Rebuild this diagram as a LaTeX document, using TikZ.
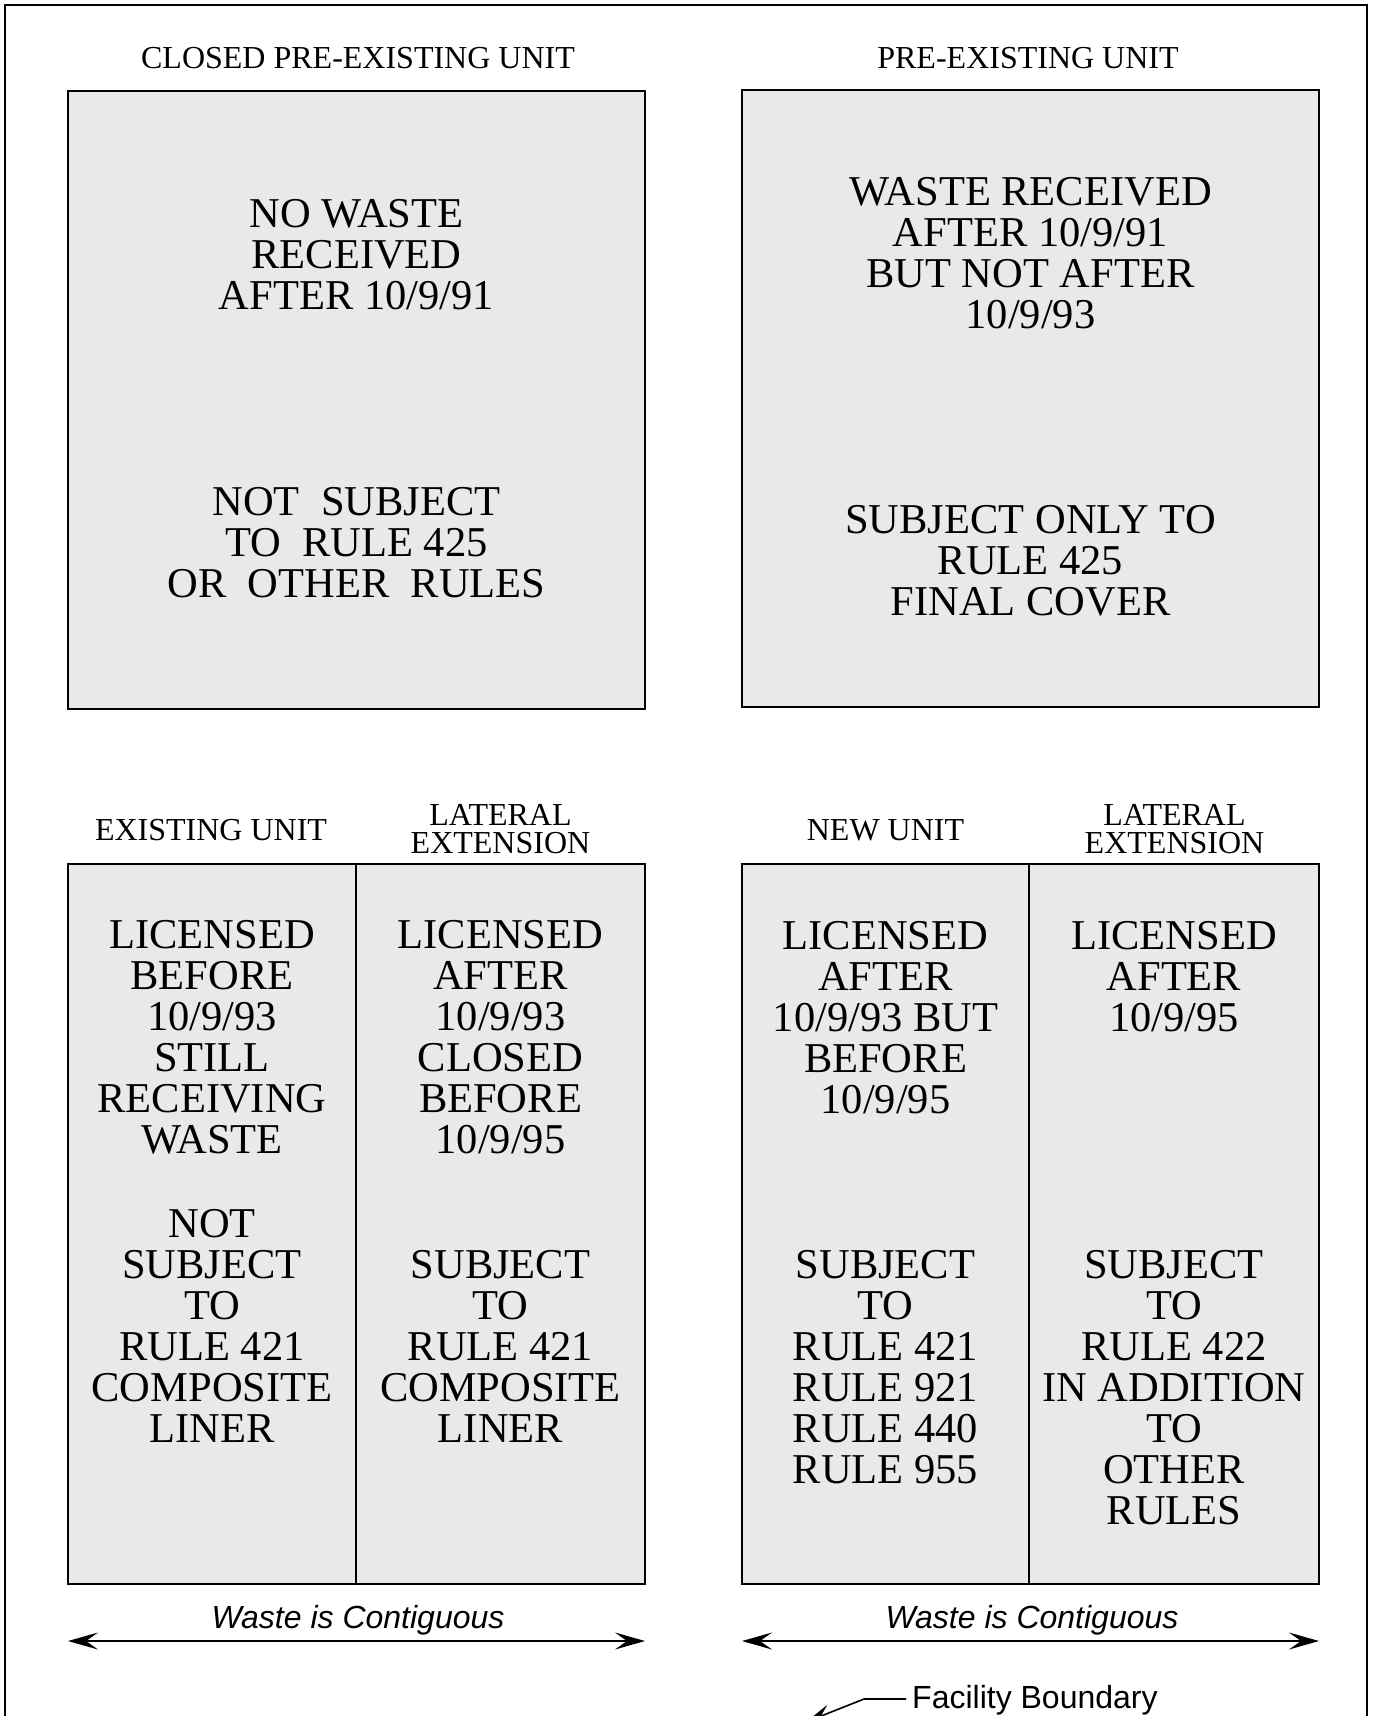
\documentclass[tikz,border=0pt]{standalone}
\usepackage{fontspec}
\setmainfont{Liberation Serif}
\newfontfamily\arialfont{Liberation Sans}
\usetikzlibrary{arrows.meta}
\definecolor{boxgray}{RGB}{233,233,233}
\tikzset{
  unitbox/.style={draw=black, fill=boxgray, line width=2pt, inner sep=0pt},
  boxtext/.style={align=center, inner sep=0pt, font=\fontsize{42.5}{41}\selectfont},
  titletext/.style={align=center, inner sep=0pt, font=\fontsize{32}{28.5}\selectfont},
  sanslabel/.style={inner sep=0pt, font=\arialfont\fontsize{32}{36}\selectfont},
  dblarrow/.style={line width=1.6pt, {Stealth[length=30pt,width=17pt,inset=12pt]}-{Stealth[length=30pt,width=17pt,inset=12pt]}},
  leader/.style={line width=1.6pt, -{Stealth[length=26pt,width=16pt,inset=10pt]}}
}
\begin{document}
\begin{tikzpicture}[x=1pt,y=-1pt]
\useasboundingbox (0,0) rectangle (1376,1716);
% outer facility border (open at bottom)
\coordinate (bl) at (5,1716);
\coordinate (tlc) at (5,4.5);
\coordinate (trc) at (1367,4.5);
\coordinate (br) at (1367,1716);
\draw[line width=2pt] (bl) -- (tlc) -- (trc) -- (br);

% top boxes
\node[unitbox, minimum width=577pt, minimum height=618pt] (tl) at (356.5,400) {};
\node[unitbox, minimum width=577pt, minimum height=617pt] (tr) at (1030.5,398.5) {};
\node[titletext] (tlt) at (358,58) {CLOSED PRE-EXISTING UNIT};
\node[titletext] (trt) at (1028,58) {PRE-EXISTING UNIT};
\node[boxtext] (tl1) at (356.5,255) {NO WASTE\\RECEIVED\\AFTER 10/9/91};
\node[boxtext] (tl2) at (356.5,543) {NOT\ \ SUBJECT\\TO\ \ RULE 425\\OR\ \ OTHER\ \ RULES};
\node[boxtext] (tr1) at (1030.5,253.5) {WASTE RECEIVED\\AFTER 10/9/91\\BUT NOT AFTER\\10/9/93};
\node[boxtext] (tr2) at (1030.5,561) {SUBJECT ONLY TO\\RULE 425\\FINAL COVER};

% bottom boxes
\node[unitbox, minimum width=288pt, minimum height=720pt] (bll) at (212,1224) {};
\node[unitbox, minimum width=289pt, minimum height=720pt] (blr) at (500.5,1224) {};
\node[unitbox, minimum width=287pt, minimum height=720pt] (brl) at (885.5,1224) {};
\node[unitbox, minimum width=290pt, minimum height=720pt] (brr) at (1174,1224) {};

\node[titletext] (bllt) at (211,830) {EXISTING UNIT};
\node[titletext] (blrta) at (500.5,815) {LATERAL};
\node[titletext] (blrtb) at (500.5,843) {EXTENSION};
\node[titletext] (brlt) at (885.5,830) {NEW UNIT};
\node[titletext] (brrta) at (1174.5,815) {LATERAL};
\node[titletext] (brrtb) at (1174.5,843) {EXTENSION};

\node[boxtext] (bll1) at (212,1037.5) {LICENSED\\BEFORE\\10/9/93\\STILL\\RECEIVING\\WASTE};
\node[boxtext] (bll2) at (212,1325.5) {NOT\\SUBJECT\\TO\\RULE 421\\COMPOSITE\\LINER};
\node[boxtext] (blr1) at (500.5,1037.5) {LICENSED\\AFTER\\10/9/93\\CLOSED\\BEFORE\\10/9/95};
\node[boxtext] (blr2) at (500.5,1346.5) {SUBJECT\\TO\\RULE 421\\COMPOSITE\\LINER};
\node[boxtext] (brl1) at (885.5,1018) {LICENSED\\AFTER\\10/9/93 BUT\\BEFORE\\10/9/95};
\node[boxtext] (brl2) at (885.5,1367) {SUBJECT\\TO\\RULE 421\\RULE 921\\RULE 440\\RULE 955};
\node[boxtext] (brr1) at (1174,976.5) {LICENSED\\AFTER\\10/9/95};
\node[boxtext] (brr2) at (1174,1387.5) {SUBJECT\\TO\\RULE 422\\IN ADDITION\\TO\\OTHER\\RULES};

% contiguity arrows
\node[sanslabel] (wl) at (358,1620) {\itshape Waste is Contiguous};
\node[sanslabel] (wr) at (1032,1620) {\itshape Waste is Contiguous};
\coordinate (al1) at (68,1641);
\coordinate (al2) at (645,1641);
\coordinate (ar1) at (742,1641);
\coordinate (ar2) at (1319,1641);
\draw[dblarrow] (al1) -- (al2);
\draw[dblarrow] (ar1) -- (ar2);

% facility boundary label
\node[sanslabel, anchor=base west] (fb) at (912,1708) {Facility Boundary};
\coordinate (fbs) at (906,1699);
\coordinate (fbk) at (864,1699);
\coordinate (fbtip) at (806,1722);
\draw[leader] (fbs) -- (fbk) -- (fbtip);
\end{tikzpicture}
\end{document}
